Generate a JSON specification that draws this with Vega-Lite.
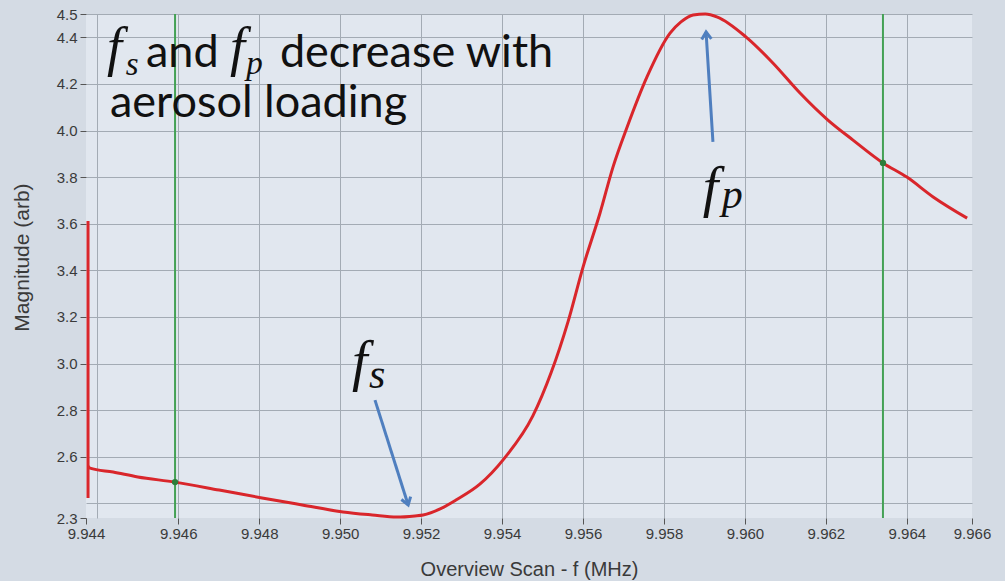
{
  "$schema": "https://vega.github.io/schema/vega-lite/v6.json",
  "width": 886,
  "height": 504,
  "autosize": {"type": "none"},
  "padding": {"left": 86, "top": 14, "right": 33, "bottom": 63},
  "background": "#d4dbe4",
  "config": {
    "view": {"fill": "#e1e7ef", "stroke": null},
    "axis": {
      "labelFont": "Liberation Sans",
      "titleFont": "Liberation Sans",
      "labelColor": "#3a3a3a",
      "titleColor": "#3a3a3a",
      "titleFontWeight": "normal",
      "tickColor": "#555555",
      "gridColor": "#a3abb4",
      "gridWidth": 1,
      "gridOpacity": 1,
      "labelOverlap": false,
      "labelBound": false,
      "labelFlush": false
    }
  },
  "datasets": {
    "spike": [
      {"f": 9.94377, "lo": 2.423, "hi": 3.612}
    ],
    "curve": [
      {"i": 1, "f": 9.94377, "m": 2.560},
      {"i": 2, "f": 9.94382, "m": 2.551},
      {"i": 3, "f": 9.94439, "m": 2.534},
      {"i": 4, "f": 9.94500, "m": 2.513},
      {"i": 5, "f": 9.94592, "m": 2.491},
      {"i": 6, "f": 9.94701, "m": 2.457},
      {"i": 7, "f": 9.94807, "m": 2.423},
      {"i": 8, "f": 9.94906, "m": 2.393},
      {"i": 9, "f": 9.95007, "m": 2.363},
      {"i": 10, "f": 9.95079, "m": 2.350},
      {"i": 11, "f": 9.95140, "m": 2.341},
      {"i": 12, "f": 9.95185, "m": 2.346},
      {"i": 13, "f": 9.95205, "m": 2.350},
      {"i": 14, "f": 9.95247, "m": 2.376},
      {"i": 15, "f": 9.95286, "m": 2.414},
      {"i": 16, "f": 9.95345, "m": 2.482},
      {"i": 17, "f": 9.95405, "m": 2.592},
      {"i": 18, "f": 9.95476, "m": 2.775},
      {"i": 19, "f": 9.95521, "m": 2.960},
      {"i": 20, "f": 9.95563, "m": 3.180},
      {"i": 21, "f": 9.95600, "m": 3.414},
      {"i": 22, "f": 9.95642, "m": 3.646},
      {"i": 23, "f": 9.95674, "m": 3.843},
      {"i": 24, "f": 9.95709, "m": 4.015},
      {"i": 25, "f": 9.95758, "m": 4.230},
      {"i": 26, "f": 9.95815, "m": 4.418},
      {"i": 27, "f": 9.95842, "m": 4.466},
      {"i": 28, "f": 9.95872, "m": 4.496},
      {"i": 29, "f": 9.95902, "m": 4.500},
      {"i": 30, "f": 9.95932, "m": 4.487},
      {"i": 31, "f": 9.96003, "m": 4.401},
      {"i": 32, "f": 9.96069, "m": 4.290},
      {"i": 33, "f": 9.96136, "m": 4.161},
      {"i": 34, "f": 9.96205, "m": 4.045},
      {"i": 35, "f": 9.96267, "m": 3.959},
      {"i": 36, "f": 9.96341, "m": 3.861},
      {"i": 37, "f": 9.96400, "m": 3.800},
      {"i": 38, "f": 9.96465, "m": 3.715},
      {"i": 39, "f": 9.96549, "m": 3.624}
    ],
    "cursors": [
      {"f": 9.94592, "m": 2.491},
      {"f": 9.96341, "m": 3.861}
    ],
    "arrows": [
      {"name": "fs", "f": 9.95086, "m": 2.843, "f2": 9.95168, "m2": 2.393},
      {"name": "fp", "f": 9.95921, "m": 3.951, "f2": 9.95904, "m2": 4.423}
    ],
    "sans": [
      {"t": "and", "f": 9.94520, "m": 4.273},
      {"t": "decrease with", "f": 9.94851, "m": 4.273},
      {"t": "aerosol loading", "f": 9.94431, "m": 4.058}
    ],
    "titleF": [
      {"t": "f", "f": 9.94424, "m": 4.281},
      {"t": "f", "f": 9.94728, "m": 4.281}
    ],
    "titleSub": [
      {"t": "s", "f": 9.94470, "m": 4.238},
      {"t": "p", "f": 9.94768, "m": 4.242}
    ],
    "plotF": [
      {"t": "f", "f": 9.95029, "m": 2.929},
      {"t": "f", "f": 9.95896, "m": 3.676}
    ],
    "plotSub": [
      {"t": "s", "f": 9.95071, "m": 2.895},
      {"t": "p", "f": 9.95943, "m": 3.667}
    ]
  },
  "layer": [
    {
      "data": {"name": "cursors"},
      "mark": {"type": "rule", "color": "#44a155", "strokeWidth": 2},
      "encoding": {
        "x": {
          "field": "f", "type": "quantitative",
          "scale": {"domain": [9.94372, 9.96561], "nice": false, "zero": false},
          "axis": {"orient": "top", "values": [9.944, 9.946, 9.948, 9.95, 9.952, 9.954, 9.956, 9.958, 9.96, 9.962, 9.964], "grid": true, "labels": false, "ticks": false, "domain": false, "title": null}
        }
      }
    },
    {
      "data": {"name": "spike"},
      "mark": {"type": "rule", "color": "#d9262b", "strokeWidth": 3},
      "encoding": {
        "x": {"field": "f", "type": "quantitative", "axis": null},
        "y": {"field": "lo", "type": "quantitative", "axis": null},
        "y2": {"field": "hi"}
      }
    },
    {
      "data": {"name": "curve"},
      "mark": {"type": "line", "color": "#d9262b", "strokeWidth": 3, "interpolate": "monotone"},
      "encoding": {
        "x": {
          "field": "f", "type": "quantitative",
          "scale": {"domain": [9.94372, 9.96561], "nice": false, "zero": false},
          "axis": {
            "orient": "bottom",
            "values": [9.94372, 9.946, 9.948, 9.95, 9.952, 9.954, 9.956, 9.958, 9.96, 9.962, 9.964, 9.96561],
            "labelExpr": "format(datum.value, '.3f')",
            "grid": false, "domain": false,
            "tickSize": 6, "labelPadding": 2, "labelFontSize": 15,
            "title": "Overview Scan - f (MHz)", "titleFontSize": 20,
            "titleBaseline": "alphabetic", "titleY": 57
          }
        },
        "y": {
          "field": "m", "type": "quantitative",
          "scale": {"domain": [2.337, 4.5], "nice": false, "zero": false},
          "axis": {
            "orient": "left",
            "values": [2.337, 2.6, 2.8, 3.0, 3.2, 3.4, 3.6, 3.8, 4.0, 4.2, 4.4, 4.5],
            "labelExpr": "format(datum.value, '.1f')",
            "grid": false, "domain": false,
            "tickSize": 6, "labelPadding": 3, "labelFontSize": 15,
            "title": "Magnitude (arb)", "titleFontSize": 21,
            "titleAngle": -90, "titleX": -64, "titleY": 243,
            "titleAlign": "center", "titleBaseline": "middle"
          }
        },
        "order": {"field": "i", "type": "quantitative"}
      }
    },
    {
      "data": {"name": "cursors"},
      "mark": {"type": "point", "filled": true, "color": "#2e7d3a", "size": 40, "opacity": 1},
      "encoding": {
        "x": {"field": "f", "type": "quantitative", "axis": null},
        "y": {
          "field": "m", "type": "quantitative",
          "axis": {"orient": "right", "values": [2.4, 2.6, 2.8, 3.0, 3.2, 3.4, 3.6, 3.8, 4.0, 4.2, 4.4, 4.5], "grid": true, "labels": false, "ticks": false, "domain": false, "title": null}
        }
      }
    },
    {
      "data": {"name": "arrows"},
      "mark": {"type": "rule", "color": "#4f7fbf", "strokeWidth": 3},
      "encoding": {
        "x": {"field": "f", "type": "quantitative", "axis": null},
        "y": {"field": "m", "type": "quantitative", "axis": null},
        "x2": {"field": "f2"},
        "y2": {"field": "m2"}
      }
    },
    {
      "data": {"name": "arrows"},
      "transform": [{"filter": "datum.name == 'fs'"}],
      "mark": {"type": "point", "shape": "M-0.6,0.9L0,0L0.6,0.9", "filled": false, "stroke": "#4f7fbf", "strokeWidth": 3, "size": 260, "angle": 162.6, "opacity": 1},
      "encoding": {
        "x": {"field": "f2", "type": "quantitative", "axis": null},
        "y": {"field": "m2", "type": "quantitative", "axis": null}
      }
    },
    {
      "data": {"name": "arrows"},
      "transform": [{"filter": "datum.name == 'fp'"}],
      "mark": {"type": "point", "shape": "M-0.6,0.9L0,0L0.6,0.9", "filled": false, "stroke": "#4f7fbf", "strokeWidth": 3, "size": 260, "angle": 356.4, "opacity": 1},
      "encoding": {
        "x": {"field": "f2", "type": "quantitative", "axis": null},
        "y": {"field": "m2", "type": "quantitative", "axis": null}
      }
    },
    {
      "data": {"name": "sans"},
      "mark": {"type": "text", "font": "Lato", "fontSize": 45, "color": "#111111", "align": "left", "baseline": "alphabetic"},
      "encoding": {
        "x": {"field": "f", "type": "quantitative", "axis": null},
        "y": {"field": "m", "type": "quantitative", "axis": null},
        "text": {"field": "t"}
      }
    },
    {
      "data": {"name": "titleF"},
      "mark": {"type": "text", "font": "Liberation Serif", "fontStyle": "italic", "fontSize": 54, "color": "#111111", "align": "left", "baseline": "alphabetic"},
      "encoding": {
        "x": {"field": "f", "type": "quantitative", "axis": null},
        "y": {"field": "m", "type": "quantitative", "axis": null},
        "text": {"field": "t"}
      }
    },
    {
      "data": {"name": "titleSub"},
      "mark": {"type": "text", "font": "Liberation Serif", "fontStyle": "italic", "fontSize": 33, "color": "#111111", "align": "left", "baseline": "alphabetic"},
      "encoding": {
        "x": {"field": "f", "type": "quantitative", "axis": null},
        "y": {"field": "m", "type": "quantitative", "axis": null},
        "text": {"field": "t"}
      }
    },
    {
      "data": {"name": "plotF"},
      "mark": {"type": "text", "font": "Liberation Serif", "fontStyle": "italic", "fontSize": 56, "color": "#111111", "align": "left", "baseline": "alphabetic"},
      "encoding": {
        "x": {"field": "f", "type": "quantitative", "axis": null},
        "y": {"field": "m", "type": "quantitative", "axis": null},
        "text": {"field": "t"}
      }
    },
    {
      "data": {"name": "plotSub"},
      "mark": {"type": "text", "font": "Liberation Serif", "fontStyle": "italic", "fontSize": 42, "color": "#111111", "align": "left", "baseline": "alphabetic"},
      "encoding": {
        "x": {"field": "f", "type": "quantitative", "axis": null},
        "y": {"field": "m", "type": "quantitative", "axis": null},
        "text": {"field": "t"}
      }
    }
  ]
}
